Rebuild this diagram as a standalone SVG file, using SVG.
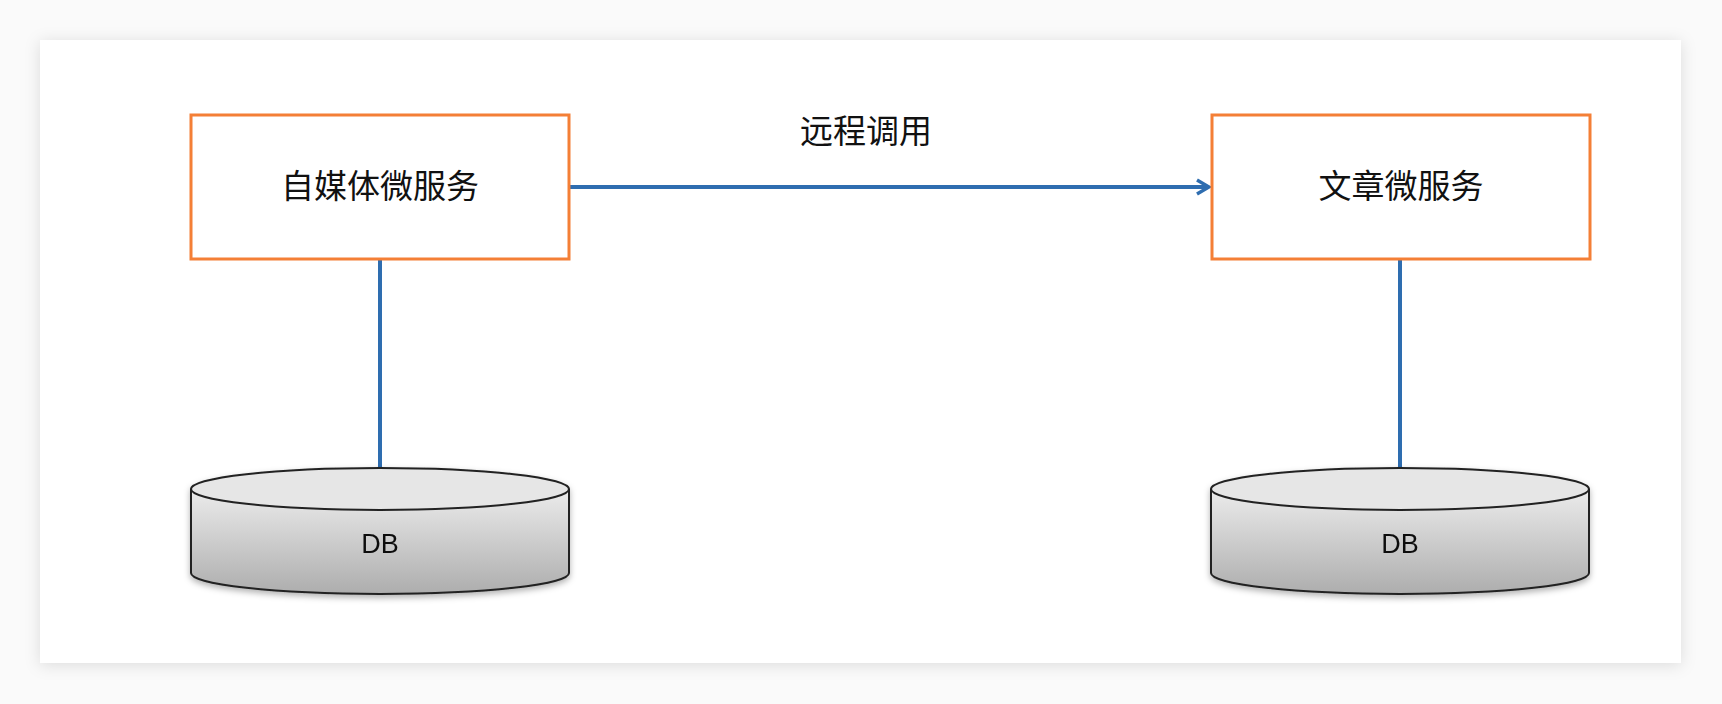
<svg xmlns="http://www.w3.org/2000/svg" width="1722" height="704" viewBox="0 0 1722 704">
<defs>
<filter id="sh" x="-5%" y="-5%" width="110%" height="115%"><feDropShadow dx="0" dy="2" stdDeviation="8" flood-color="#000" flood-opacity="0.12"/></filter>
<filter id="cs" x="-5%" y="-10%" width="110%" height="130%"><feDropShadow dx="0" dy="3" stdDeviation="3" flood-color="#000" flood-opacity="0.3"/></filter>
<linearGradient id="g" x1="0" y1="0" x2="0" y2="1"><stop offset="0" stop-color="#ececec"/><stop offset="1" stop-color="#adadad"/></linearGradient>
<marker id="ar" markerWidth="16" markerHeight="18" refX="14" refY="9" orient="auto" markerUnits="userSpaceOnUse"><path d="M2,2 L14,9 L2,16" fill="none" stroke="#2e6db0" stroke-width="3.5"/></marker>
<style>
.box{fill:#fff;stroke:#f47f36;stroke-width:3}
.ln{stroke:#2e6db0;stroke-width:4;fill:none}
.t{font-family:"Noto Sans CJK SC","Liberation Sans",sans-serif;font-size:33px;fill:#111;text-anchor:middle}
.db{font-family:"Liberation Sans",sans-serif;font-size:27px;fill:#111;text-anchor:middle}
.cy{fill:url(#g);stroke:#222;stroke-width:2}
.top{fill:#e6e6e6;stroke:#222;stroke-width:2}
</style>
</defs>
<rect x="0" y="0" width="1722" height="704" fill="#fafafa"/>
<rect x="40" y="40" width="1641" height="623" fill="#fff" filter="url(#sh)"/>
<g id="connectors">
<line class="ln" x1="569" y1="187" x2="1209" y2="187" marker-end="url(#ar)"/>
<text class="t" x="866" y="143">远程调用</text>
<line class="ln" x1="380" y1="259" x2="380" y2="467"/>
<line class="ln" x1="1400" y1="259" x2="1400" y2="467"/>
</g>
<g id="n1"><rect class="box" x="191" y="115" width="378" height="144"/><text class="t" x="380" y="198">自媒体微服务</text></g>
<g id="n2"><rect class="box" x="1212" y="115" width="378" height="144"/><text class="t" x="1401" y="198">文章微服务</text></g>
<g id="db1" filter="url(#cs)"><path class="cy" d="M191,489 L191,573 A189,21 0 0 0 569,573 L569,489"/><ellipse class="top" cx="380" cy="489" rx="189" ry="21"/><text class="db" x="380" y="553">DB</text></g>
<g id="db2" filter="url(#cs)"><path class="cy" d="M1211,489 L1211,573 A189,21 0 0 0 1589,573 L1589,489"/><ellipse class="top" cx="1400" cy="489" rx="189" ry="21"/><text class="db" x="1400" y="553">DB</text></g>
</svg>
